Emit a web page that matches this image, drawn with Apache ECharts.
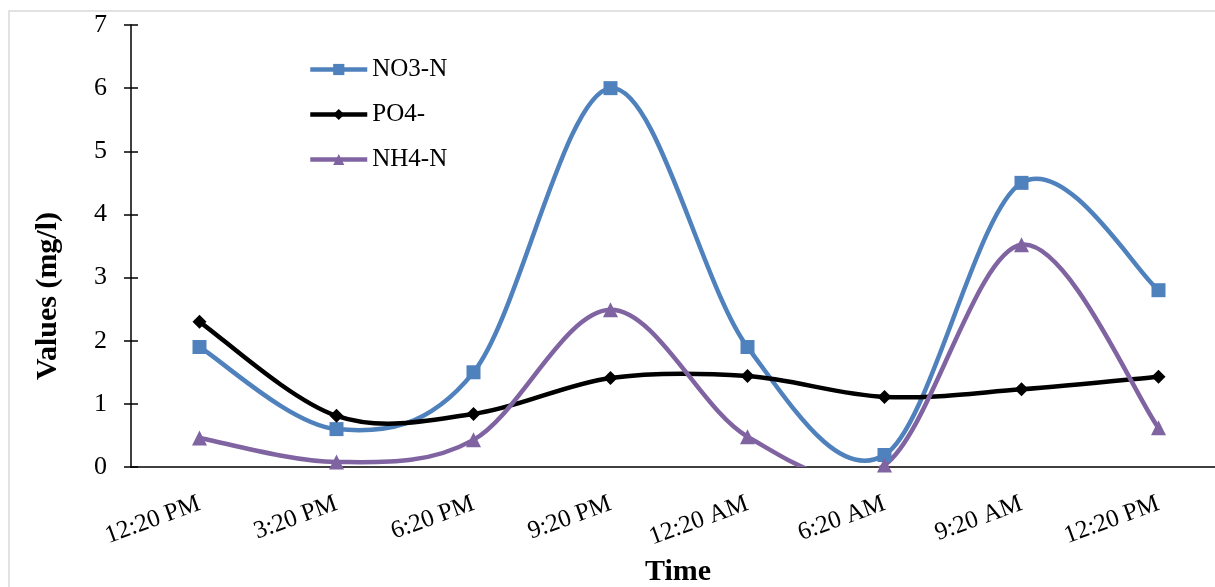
<!DOCTYPE html>
<html><head><meta charset="utf-8">
<script src="https://cdn.jsdelivr.net/npm/echarts@6/dist/echarts.min.js"></script>
<style>html,body{margin:0;padding:0;background:#fff}#c{width:1215px;height:587px}</style>
</head><body><div id="c"></div>
<script>
const categories = ['12:20 PM','3:20 PM','6:20 PM','9:20 PM','12:20 AM','6:20 AM','9:20 AM','12:20 PM'];
const no3n = [1.9, 0.6, 1.5, 6.0, 1.9, 0.19, 4.5, 2.8];
const po4 = [2.3, 0.81, 0.84, 1.41, 1.44, 1.11, 1.23, 1.43];
const nh4n = [0.46, 0.08, 0.43, 2.49, 0.48, 0.03, 3.52, 0.62];
const yTicks = {min: 0, max: 7, interval: 1};
const xTitle = 'Time';
const yTitle = 'Values (mg/l)';

const font = '"Liberation Serif", "Times New Roman", serif';
const colors = {'NO3-N': '#4F81BD', 'PO4-': '#000000', 'NH4-N': '#8064A2'};
const chart = echarts.init(document.getElementById('c'));

// smooth curve (Excel-like cardinal spline) drawn through the library's scales
function curveSeries(name, values) {
  return {
    type: 'custom', name: name + ' curve', coordinateSystem: 'cartesian2d',
    xAxisIndex: 0, yAxisIndex: 0, z: 2, silent: true,
    data: [[0, 0]], encode: {x: 0, y: 1},
    renderItem: function (params, api) {
      const p = values.map((v, i) => api.coord([i, v]));
      const n = p.length;
      let d = 'M' + p[0][0] + ' ' + p[0][1];
      for (let i = 0; i < n - 1; i++) {
        const p0 = p[Math.max(i - 1, 0)], p1 = p[i], p2 = p[i + 1], p3 = p[Math.min(i + 2, n - 1)];
        const c1 = [p1[0] + (p2[0] - p0[0]) / 6, p1[1] + (p2[1] - p0[1]) / 6];
        const c2 = [p2[0] - (p3[0] - p1[0]) / 6, p2[1] - (p3[1] - p1[1]) / 6];
        d += ' C' + c1[0] + ' ' + c1[1] + ' ' + c2[0] + ' ' + c2[1] + ' ' + p2[0] + ' ' + p2[1];
      }
      const cs = params.coordSys;
      return {
        type: 'path', shape: {pathData: d},
        style: {stroke: colors[name], lineWidth: 4.5, fill: null, lineJoin: 'round', lineCap: 'round'},
        clipPath: {type: 'rect', shape: {x: cs.x, y: cs.y, width: cs.width, height: cs.height}}
      };
    }
  };
}
const markers = (name, data, symbol, size) => ({
  name, type: 'line', data, symbol, symbolSize: size, showSymbol: true,
  lineStyle: {opacity: 0, width: 0}, itemStyle: {color: colors[name]},
  xAxisIndex: 0, yAxisIndex: 0, z: 3
});
const legendItem = (name) => ({name, lineStyle: {color: colors[name], width: 4.5, opacity: 1}, itemStyle: {color: colors[name]}});

chart.setOption({
  animation: false,
  graphic: [
    {type: 'rect', shape: {x: 9, y: 11, width: 1230, height: 600}, style: {fill: 'none', stroke: '#d9d9d9', lineWidth: 1.5}, z: -1},
    {type: 'text', x: 48, y: 296, rotation: Math.PI / 2,
     style: {text: yTitle, font: 'bold 30px ' + font, fill: '#000', textAlign: 'center', textVerticalAlign: 'middle'}},
    {type: 'text', x: 678, y: 572,
     style: {text: xTitle, font: 'bold 30px ' + font, fill: '#000', textAlign: 'center', textVerticalAlign: 'middle'}}
  ],
  grid: {left: 131, right: -12, top: 25, bottom: 120, containLabel: false, outerBoundsMode: 'none'},
  legend: {
    orient: 'vertical', left: 303, top: 52, itemGap: 20, itemWidth: 57, itemHeight: 14,
    textStyle: {fontFamily: font, fontSize: 25, color: '#000'},
    lineStyle: {width: 4.5},
    data: [legendItem('NO3-N'), legendItem('PO4-'), legendItem('NH4-N')]
  },
  xAxis: [{
    type: 'category', data: categories, boundaryGap: true,
    axisLine: {lineStyle: {color: '#000', width: 1.5}},
    axisTick: {alignWithLabel: true, length: 7, lineStyle: {color: '#000', width: 1.5}},
    axisLabel: {rotate: 20, fontFamily: font, fontSize: 25, color: '#000', margin: 36, interval: 0},
    splitLine: {show: false}
  }, {
    type: 'category', data: categories, boundaryGap: true, position: 'bottom',
    axisLine: {show: false},
    axisTick: {inside: true, alignWithLabel: true, length: 6, lineStyle: {color: '#000', width: 1.5}},
    axisLabel: {show: false}, splitLine: {show: false}
  }],
  yAxis: [{
    type: 'value', min: yTicks.min, max: yTicks.max, interval: yTicks.interval,
    axisLine: {show: true, lineStyle: {color: '#000', width: 1.5}},
    axisTick: {show: true, length: 7, lineStyle: {color: '#000', width: 1.5}},
    axisLabel: {fontFamily: font, fontSize: 26, color: '#000', margin: 24},
    splitLine: {show: false}
  }, {
    type: 'value', min: yTicks.min, max: yTicks.max, interval: yTicks.interval, position: 'left',
    axisLine: {show: false},
    axisTick: {show: true, inside: true, length: 7, lineStyle: {color: '#000', width: 1.5}},
    axisLabel: {show: false}, splitLine: {show: false}
  }],
  series: [
    curveSeries('NO3-N', no3n), markers('NO3-N', no3n, 'rect', 14),
    curveSeries('PO4-', po4), markers('PO4-', po4, 'diamond', 14),
    curveSeries('NH4-N', nh4n), markers('NH4-N', nh4n, 'triangle', 15)
  ]
});
</script></body></html>
